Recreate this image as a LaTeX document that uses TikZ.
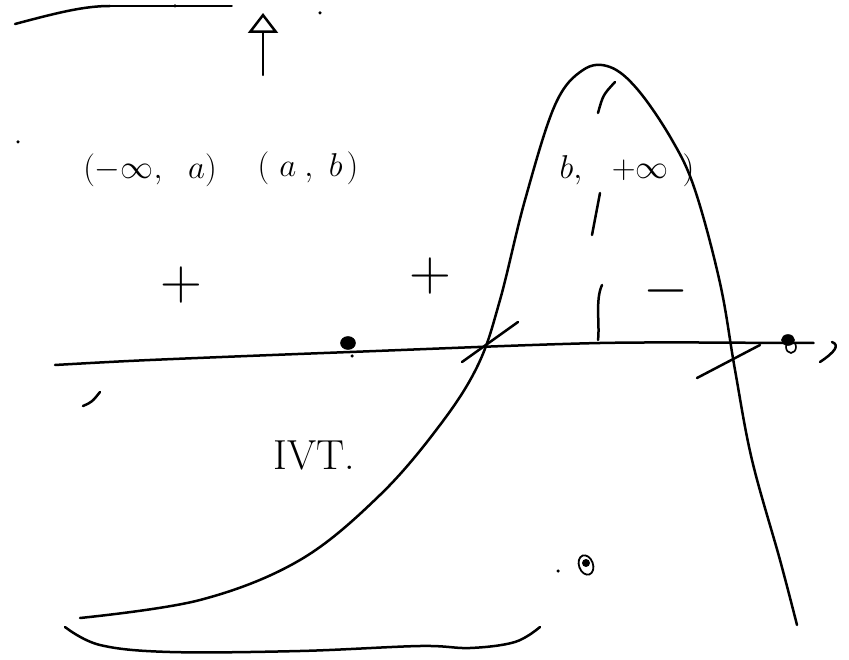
\RequirePackage{fix-cm}
\documentclass[tikz,border=0pt]{standalone}
\usepackage{tikz}
\usetikzlibrary{arrows.meta, positioning}

\begin{document}
\begin{tikzpicture}[
  x=1pt, y=-1pt,
  >=Stealth,
  pen/.style      = {line width=2.5pt, line cap=round, line join=round},
  thinpen/.style  = {line width=1.5pt, line cap=round},
  txtnode/.style  = {inner sep=0pt, font=\fontsize{33}{35}\selectfont},
  signnode/.style = {inner sep=0pt, font=\fontsize{58}{60}\selectfont},
  blob/.style     = {fill=black, line width=1.6pt},
  speck/.style    = {fill=black, circle, inner sep=0pt, minimum size=3.5pt},
  uparr/.style    = {pen, -{Triangle[open, length=20pt, width=30pt, line width=2.5pt]}},
]
\useasboundingbox (0,0) rectangle (849,660);

% =============================================
% POINTS
% =============================================
\coordinate (axisl)  at (55,365);
\coordinate (axisr)  at (813,343);
\coordinate (arrlo)  at (263,75);
\coordinate (arrhi)  at (263,13);
\node[speck] (s1) at (175,6)   {};
\node[speck] (s2) at (320,13)  {};
\node[speck] (s3) at (18,142)  {};
\node[speck] (s4) at (352,356) {};
\node[speck] (s5) at (558,571) {};

% =============================================
% TEXTS
% =============================================
\node[txtnode]  (left)  at (150,170) {$(-\infty,\ \ a)$};
\node[txtnode]  (mid)   at (308,168) {$(\hspace{10pt}a\hspace{8pt},\hspace{10pt}b\hspace{4pt})$};
\node[txtnode]  (right) at (627,170) {$b,\hspace{24pt}+\infty\hspace{14pt})$};
\node[signnode] (plus1) at (181,285) {$+$};
\node[signnode] (plus2) at (430,276) {$+$};
\node[signnode] (minus) at (666,291) {$-$};
\node[txtnode, font=\fontsize{42}{44}\selectfont] (ivt) at (314,455) {IVT.};

% =============================================
% STROKES
% =============================================
% top left stroke
\draw[pen] (15,24) .. controls (60,12) and (85,6) .. (110,6);
\draw[thinpen] (110,6) -- (232,6);
% up arrow
\draw[uparr] (arrlo) -- (arrhi);
% axis
\draw[pen] plot[smooth] coordinates {(axisl) (150,360) (350,352) (600,343) (790,343) (axisr)};
\draw[pen] (820,362) .. controls (835,352) and (840,345) .. (832,342);
% big curve
\draw[pen] plot[smooth, tension=0.6] coordinates {(80,618) (200,600) (300,560) (380,495)
  (440,425) (478,365) (500,300) (525,200) (555,105) (583,70) (610,67) (638,90)
  (672,140) (695,190) (720,283) (735,370) (752,460) (780,560) (797,625)};
% lower curve
\draw[pen] plot[smooth, tension=0.6] coordinates {(65,627) (100,645) (170,652)
  (300,651) (420,646) (470,648) (515,642) (540,627)};
% small marks
\draw[pen] (615,82)  .. controls (603,95) .. (598,113);
\draw[pen] (600,193) -- (592,235);
\draw[pen] (602,285) .. controls (595,300) and (600,325) .. (598,340);
\draw[pen] (518,322) -- (462,362);
\draw[pen] (760,345) -- (697,378);
\draw[pen] (83,406)  .. controls (92,402) .. (100,392);

% =============================================
% BLOBS
% =============================================
\draw[blob] (348,343) ellipse (7pt and 6pt);
\draw[blob] (788,340) ellipse (6pt and 5pt);
\draw[line width=1.6pt] (791,347) ellipse (5pt and 6pt);
\draw[line width=1.8pt, rotate around={20:(586,565)}] (586,565) ellipse (7pt and 10pt);
\fill (586,563) ellipse (4pt and 4pt);

\end{tikzpicture}
\end{document}
